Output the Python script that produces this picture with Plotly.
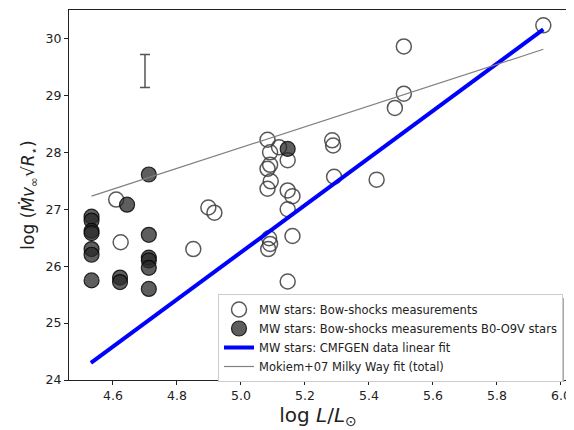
import plotly.graph_objects as go
import numpy as np

# Open circles: MW stars bow-shock measurements
open_x = [4.610, 4.624, 4.851, 4.898, 4.917, 5.083, 5.119, 5.091, 5.146, 5.091,
          5.083, 5.093, 5.083, 5.146, 5.161, 5.146, 5.161, 5.088, 5.091, 5.085,
          5.146, 5.285, 5.288, 5.291, 5.424, 5.509, 5.509, 5.481, 5.945]
open_y = [27.17, 26.42, 26.30, 27.03, 26.94, 28.22, 28.09, 28.00, 27.86, 27.78,
          27.71, 27.49, 27.36, 27.33, 27.23, 27.00, 26.53, 26.49, 26.39, 26.30,
          25.73, 28.21, 28.12, 27.57, 27.52, 29.86, 29.03, 28.78, 30.23]

# Filled circles: B0-O9V stars
dark_x = [4.533, 4.533, 4.533, 4.533, 4.533, 4.533, 4.533,
          4.622, 4.622, 4.644,
          4.712, 4.712, 4.712, 4.712, 4.712, 4.712, 5.146]
dark_y = [26.87, 26.80, 26.62, 26.58, 26.30, 26.20, 25.75,
          25.80, 25.72, 27.08,
          27.61, 26.55, 26.15, 26.10, 25.97, 25.60, 28.06]

# Linear fits (endpoints of fitted range)
fit_x = [4.531, 5.945]
cmfgen_y = [24.30, 30.16]
mokiem_x = [4.533, 5.945]
mokiem_y = [27.23, 29.81]

# Typical error bar
err_x = [4.70]
err_y = [29.43]
err_size = [0.29]

x_ticks = [4.6, 4.8, 5.0, 5.2, 5.4, 5.6, 5.8, 6.0]
y_ticks = [24, 25, 26, 27, 28, 29, 30]

fig = go.Figure()

fig.add_trace(go.Scatter(
    x=open_x, y=open_y, mode="markers",
    name="MW stars: Bow-shocks measurements",
    marker=dict(size=15, color="rgba(255,255,255,0)",
                line=dict(color="rgba(60,60,60,0.85)", width=1.5)),
))
fig.add_trace(go.Scatter(
    x=dark_x, y=dark_y, mode="markers",
    name="MW stars: Bow-shocks measurements B0-O9V stars",
    marker=dict(size=15, color="rgba(40,40,40,0.75)",
                line=dict(color="rgba(0,0,0,0.8)", width=1.2)),
))
fig.add_trace(go.Scatter(
    x=fit_x, y=cmfgen_y, mode="lines",
    name="MW stars: CMFGEN data linear fit",
    line=dict(color="#0000ff", width=4),
))
fig.add_trace(go.Scatter(
    x=mokiem_x, y=mokiem_y, mode="lines",
    name="Mokiem+07 Milky Way fit (total)",
    line=dict(color="#808080", width=1.2),
))
fig.add_trace(go.Scatter(
    x=err_x, y=err_y, mode="markers", showlegend=False,
    marker=dict(size=1, color="rgba(0,0,0,0)"),
    error_y=dict(type="data", array=err_size, color="#555555",
                 thickness=1.5, width=5),
))

# Plot area in window pixels: left 69, right 567, top 10, bottom 380.
# The page body adds an 8 px offset, so the figure is drawn 8 px smaller.
PW, PH = 498.0, 370.0
leg_top_px = 294      # legend top (window pixels)
leg_left_px = 218
leg_w, leg_h = 342, 84
lx = (leg_left_px - 69) / PW
ly = (380 - leg_top_px) / PH

# legend shadow (offset 4 px right/down)
fig.add_shape(type="rect", xref="paper", yref="paper",
              x0=(leg_left_px + 4 - 69) / PW, x1=(leg_left_px + 4 + leg_w - 69) / PW,
              y0=(380 - (leg_top_px + 4 + leg_h)) / PH, y1=(380 - (leg_top_px + 4)) / PH,
              fillcolor="#a8a8a8", line=dict(width=0), layer="above")

axis_common = dict(
    showgrid=False, zeroline=False, showline=True, mirror=True,
    linecolor="#222222", linewidth=1, ticks="outside", ticklen=4,
    tickcolor="#222222", automargin=False,
    tickfont=dict(family="DejaVu Sans", size=12.5, color="#222222"),
)

fig.update_layout(
    width=566, height=422,
    margin=dict(l=61, r=7, t=2, b=50),
    plot_bgcolor="white", paper_bgcolor="white",
    font=dict(family="DejaVu Sans", color="#222222"),
    xaxis=dict(range=[4.4625, 6.019], tickvals=x_ticks,
               ticktext=[f"{v:.1f}" for v in x_ticks],
               title=dict(text="log <i>L</i>/<i>L</i><sub>⊙</sub>",
                          font=dict(size=20), standoff=3),
               **axis_common),
    yaxis=dict(range=[24, 30.5], tickvals=y_ticks,
               ticktext=[str(v) for v in y_ticks],
               title=dict(text="log (<i>Ṁv</i><sub>∞</sub>√<i>R</i><sub>⋆</sub>)",
                          font=dict(size=17), standoff=6),
               **axis_common),
    legend=dict(x=lx, y=ly, xanchor="left", yanchor="top",
                bgcolor="white", bordercolor="#cccccc", borderwidth=1,
                font=dict(size=11.5, color="#222222"),
                tracegroupgap=0, itemwidth=30),
    showlegend=True,
)

fig.write_html("out.html")
